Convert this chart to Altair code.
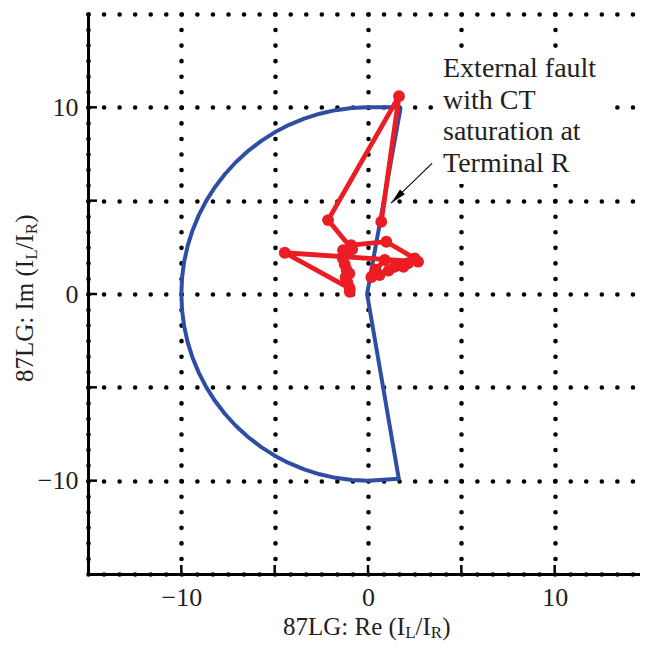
import altair as alt
import pandas as pd

# ---- data ----
arc_x_half = [0.0, -0.872, -1.736, -2.588, -3.420, -4.226, -5.000, -5.736, -6.428, -7.071,
              -7.660, -8.192, -8.660, -9.063, -9.397, -9.659, -9.848, -9.962]
arc_y_half = [10.0, 9.962, 9.848, 9.659, 9.397, 9.063, 8.660, 8.192, 7.660, 7.071,
              6.428, 5.736, 5.000, 4.226, 3.420, 2.588, 1.736, 0.872]
blue_x = ([1.75, -0.05, 1.65]
          + arc_x_half
          + [-10.0]
          + arc_x_half[::-1]
          + [1.75])
blue_y = ([10.0, 0.0, -9.9]
          + [-v for v in arc_y_half]
          + [0.0]
          + arc_y_half[::-1]
          + [10.0])

red_x = [-0.98, -1.10, -1.00, -1.25, -1.34, -0.90, 0.98, 2.50, 2.14, 1.90, 1.43, 1.10,
         0.62, 0.18, 0.40, 0.90, 2.68, -4.46, -0.98, -1.20, -1.15, -1.35, -0.85,
         -2.14, 1.66, 0.71]
red_y = [0.12, 0.60, 1.10, 1.60, 2.35, 2.62, 2.80, 1.91, 1.65, 1.45, 1.46, 1.25,
         1.02, 0.91, 1.30, 1.82, 1.73, 2.21, 0.30, 0.90, 1.30, 1.90, 2.40,
         3.96, 10.60, 3.87]

grid_vals = [-15, -10, -5, 0, 5, 10, 15]
tick_vals = [-10, -5, 0, 5, 10]
note_lines = ["External fault", "with CT", "saturation at", "Terminal R"]
arrow_tail = (3.43, 7.0)
arrow_head = (1.23, 4.87)
arrow_mid = (1.54, 5.17)

FONT = "Liberation Serif"
W, H = 552, 560
RED = "#EC1C24"
BLUE = "#2F4EA3"
TXT = "#231F20"

blue_df = pd.DataFrame({"x": blue_x, "y": blue_y, "o": list(range(len(blue_x)))})
red_df = pd.DataFrame({"x": red_x, "y": red_y, "o": list(range(len(red_x)))})

xs = alt.Scale(domain=[-15, 14.57], nice=False, zero=False)
ys = alt.Scale(domain=[-15, 15], nice=False, zero=False)

lbl = "datum.value % 10 == 0 ? datum.label : ''"
common = dict(values=grid_vals, title=None, labelExpr=lbl, ticks=False,
              labelFont=FONT, labelFontSize=26, labelColor=TXT,
              domainColor="black", domainWidth=3,
              grid=True, gridColor="black", gridWidth=4.6, gridCap="round",
              gridDash=[0, 560 / 36], gridOpacity=1)
xaxis = alt.Axis(labelPadding=10, **common)
yaxis = alt.Axis(labelPadding=10, **common)

blue = alt.Chart(blue_df).mark_line(color=BLUE, strokeWidth=4, strokeJoin="round").encode(
    x=alt.X("x:Q", scale=xs, axis=xaxis),
    y=alt.Y("y:Q", scale=ys, axis=yaxis),
    order="o:O",
)

red_line = alt.Chart(red_df).mark_line(color=RED, strokeWidth=4.8, strokeJoin="round").encode(
    x=alt.X("x:Q", scale=xs), y=alt.Y("y:Q", scale=ys), order="o:O")
red_pts = alt.Chart(red_df).mark_circle(color=RED, size=140, opacity=1).encode(
    x=alt.X("x:Q", scale=xs), y=alt.Y("y:Q", scale=ys))

xt = alt.Chart(pd.DataFrame({"v": tick_vals})).mark_rule(color="black", strokeWidth=2.5).encode(
    x=alt.X("v:Q", scale=xs), y=alt.value(H), y2=alt.value(H - 9))
yt = alt.Chart(pd.DataFrame({"v": tick_vals})).mark_rule(color="black", strokeWidth=2.5).encode(
    y=alt.Y("v:Q", scale=ys), x=alt.value(0), x2=alt.value(9))

arrow_df = pd.DataFrame({"x": [arrow_tail[0]], "y": [arrow_tail[1]],
                         "x2": [arrow_head[0]], "y2": [arrow_head[1]]})
arrow = alt.Chart(arrow_df).mark_rule(color="black", strokeWidth=1.1).encode(
    x=alt.X("x:Q", scale=xs), y=alt.Y("y:Q", scale=ys), x2="x2:Q", y2="y2:Q")
head = alt.Chart(pd.DataFrame({"x": [arrow_mid[0]], "y": [arrow_mid[1]]})).mark_point(
    shape="M0,-1L0.42,1L-0.42,1Z", filled=True, color="black", opacity=1, size=256, angle=225
).encode(x=alt.X("x:Q", scale=xs), y=alt.Y("y:Q", scale=ys))

dummy = pd.DataFrame({"a": [0]})
note_bg = alt.Chart(dummy).mark_rect(color="white", opacity=1).encode(
    x=alt.value(348), x2=alt.value(524), y=alt.value(34), y2=alt.value(170))
note = alt.Chart(dummy).mark_text(font=FONT, fontSize=28, align="left", baseline="alphabetic",
                                  lineHeight=31.5, color=TXT).encode(
    x=alt.value(355), y=alt.value(63), text=alt.value(note_lines))


def piece(txt, x, y, size, angle=0):
    return alt.Chart(dummy).mark_text(font=FONT, fontSize=size, align="left",
                                      baseline="alphabetic", color=TXT, angle=angle).encode(
        x=alt.value(x), y=alt.value(y), text=alt.value(txt))


# x title: "87LG: Re (I_L/I_R)"
BIG, SMALL = 25, 17
w_main = 4.888 * BIG
w_L = 0.611 * SMALL
w_sI = (0.278 + 0.333) * BIG
w_R = 0.667 * SMALL
x0 = 195
yb = 621
xtitle = [
    piece("87LG: Re (I", x0, yb, BIG),
    piece("L", x0 + w_main, yb + 3, SMALL),
    piece("/I", x0 + w_main + w_L, yb, BIG),
    piece("R", x0 + w_main + w_L + w_sI, yb + 3, SMALL),
    piece(")", x0 + w_main + w_L + w_sI + w_R, yb, BIG),
]
# y title rotated
y0 = 368
xb = -55
ytitle = [
    piece("87LG: Im (I", xb, y0, BIG, 270),
    piece("L", xb + 4, y0 - w_main, SMALL, 270),
    piece("/I", xb, y0 - w_main - w_L, BIG, 270),
    piece("R", xb + 4, y0 - w_main - w_L - w_sI, SMALL, 270),
    piece(")", xb, y0 - w_main - w_L - w_sI - w_R, BIG, 270),
]

chart = alt.layer(note_bg, blue, xt, yt, red_line, red_pts, arrow, head, note,
                  *xtitle, *ytitle).properties(
    width=W, height=H, autosize="none",
    padding={"left": 80, "top": 6, "right": 0, "bottom": 67},
).configure_view(strokeWidth=0)

chart.save("out.html", embed_options={"renderer": "svg", "actions": False})
